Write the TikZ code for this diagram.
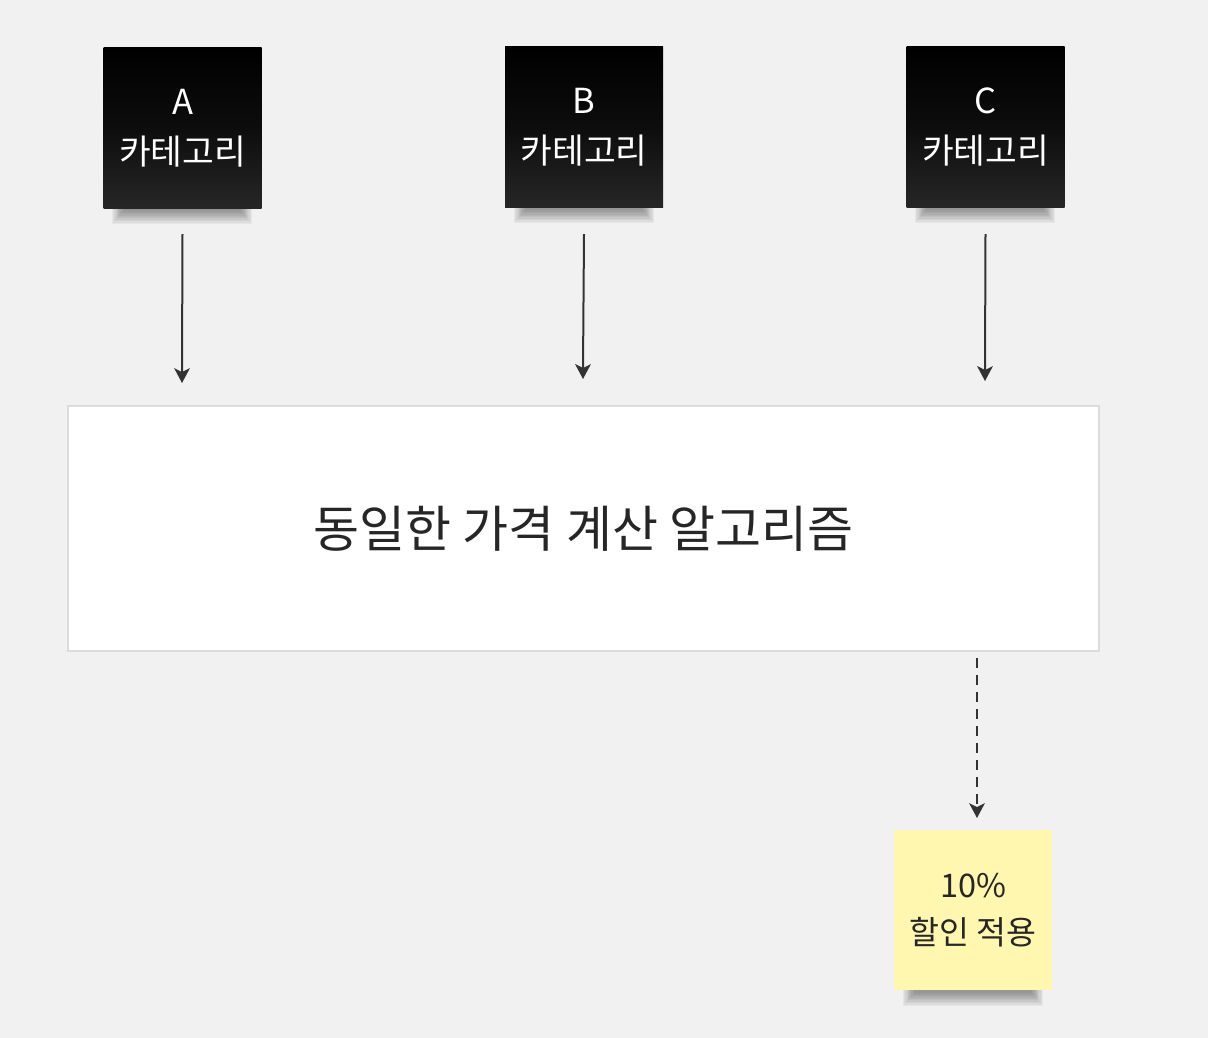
\documentclass[tikz,border=0pt]{standalone}
\usepackage{fontspec}
\setmainfont{Noto Sans CJK KR}
\definecolor{bg}{HTML}{F1F1F1}
\definecolor{ink}{HTML}{333333}
\definecolor{sticky}{HTML}{FFF6B0}
\definecolor{boxline}{HTML}{DCDCDC}
\tikzset{
  blackstick/.style={minimum width=158pt, minimum height=160pt, inner sep=0pt,
    top color=black, bottom color=black!85!white, middle color=black!95!white, text=white, align=center,
    font=\fontsize{34.5pt}{50pt}\selectfont},
  yellowstick/.style={minimum width=158pt, minimum height=160pt, inner sep=0pt,
    fill=sticky, text=black!85, align=center,
    font=\fontsize{32.5pt}{47pt}\selectfont},
  mainbox/.style={draw=boxline, line width=1.5pt, fill=white, minimum width=1031pt,
    minimum height=245pt, inner sep=0pt, font=\fontsize{50pt}{60pt}\selectfont, text=black!85},
  conn/.style={draw=ink, line width=2pt},
  dconn/.style={conn, dash pattern=on 10pt off 7pt},
  tiphead/.style={fill=ink},
}
\newcommand{\tipat}[1]{\fill[tiphead] (#1) -- ++(-8,-15) -- ++(8,4) -- ++(8,-4) -- cycle;}
\newcommand{\stickshadow}[2]{%
  \foreach \k in {0,...,9}{
    \fill[black, opacity=0.045] ({#1-70+\k*1.2},{#2+70+\k*0.3}) rectangle ({#1+70-\k*1.2},{#2+96-\k*1.4});
  }}
\begin{document}
\begin{tikzpicture}[x=1pt,y=-1pt]
\fill[bg] (0,0) rectangle (1208,1038);
\useasboundingbox (0,0) rectangle (1208,1038);
% shadows
\stickshadow{182}{128}
\stickshadow{584}{127}
\stickshadow{985}{127}
\stickshadow{973}{910}
\node[blackstick] (a) at (182.5,128) {A\\카테고리};
\node[blackstick] (b) at (584,127) {B\\카테고리};
\node[blackstick] (c) at (985.5,127) {C\\카테고리};
\node[mainbox] (m) at (583.5,528.5) {동일한 가격 계산 알고리즘};
\node[yellowstick] (y) at (973,910) {10\%\\할인 적용};
\coordinate (ae) at (182,383);
\coordinate (be) at (583,379);
\coordinate (ce) at (985,381);
\coordinate (ds) at (977,658);
\coordinate (de) at (977,818);
\draw[conn] ([yshift=-26pt]a.south) -- ([yshift=10pt]ae);
\draw[conn] ([yshift=-27pt]b.south) -- ([yshift=10pt]be);
\draw[conn] ([yshift=-27pt]c.south) -- ([yshift=10pt]ce);
\draw[dconn] (ds) -- ([yshift=10pt]de);
\tipat{ae}
\tipat{be}
\tipat{ce}
\tipat{de}
\end{tikzpicture}
\end{document}
